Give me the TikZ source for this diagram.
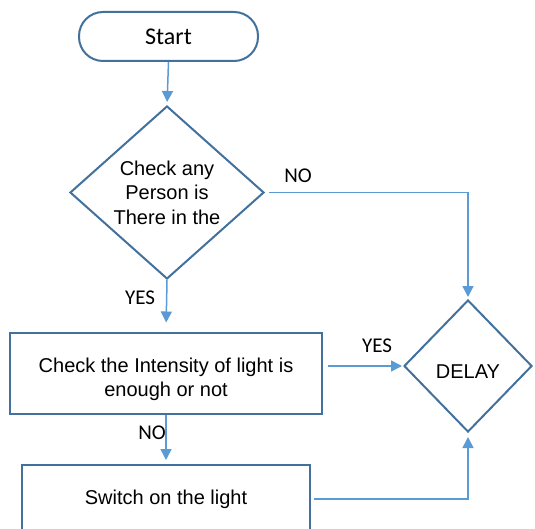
\documentclass[tikz,border=0pt]{standalone}
\usepackage{fontspec}
\setmainfont{Liberation Sans}
\newfontfamily\calib{Carlito}
\usetikzlibrary{shapes.geometric,arrows.meta}
\definecolor{shapeblue}{HTML}{41719C}
\definecolor{lineblue}{HTML}{5B9BD5}
\tikzset{
  shapeline/.style={draw=shapeblue, line width=1pt, fill=white, align=center, font=\fontsize{10}{12.3}\selectfont},
  termbox/.style={shapeline, rounded corners=12pt, minimum width=89.5pt, minimum height=24.5pt, font=\calib\fontsize{12}{14}\selectfont},
  procbox/.style={shapeline, rectangle, inner sep=0pt},
  decbox/.style={shapeline, diamond, inner sep=0pt},
  conn/.style={draw=lineblue, line width=0.75pt, -{Triangle[length=5.5pt,width=5.5pt]}},
  lbl/.style={font=\calib\fontsize{10.5}{12}\selectfont, inner sep=0pt}
}
\begin{document}
\begin{tikzpicture}[x=0.5pt,y=-0.5pt]
\useasboundingbox (0,0) rectangle (535,529);
\clip (0,0) rectangle (535,529);
\node[termbox] (start) at (168.5,36.5) {Start};
\node[decbox, minimum width=97pt, minimum height=86.5pt] (d1) at (167,192.5) {Check any\\Person is\\There in the};
\node[procbox, minimum width=156pt, minimum height=40.5pt] (b1) at (166,373) {\rule{0pt}{13.5pt}Check the Intensity of light is\\enough or not};
\node[procbox, minimum width=144pt, minimum height=34pt] (b2) at (166,499) {Switch on the light};
\node[decbox, minimum width=64pt, minimum height=66pt] (dl) at (468,366) {\rule{0pt}{12.7pt}DELAY};

\draw[conn, shorten >=1.5pt] (start.south) -- (d1.north);
\draw[conn, shorten >=4.5pt] (d1.south) -- (b1.north);
\draw[conn, shorten >=2pt] (b1.south) -- (b2.north);
\draw[conn, shorten <=2pt, shorten >=1pt] (d1.east) -| (dl.north);
\draw[conn, shorten <=2.5pt, shorten >=0.5pt] (b1.east |- dl.west) -- (dl.west);
\draw[conn, shorten <=1.5pt, shorten >=2pt] (b2.east) -| (dl.south);

\node[lbl] (lno1) at (298,176) {NO};
\node[lbl] (lyes1) at (140,298) {YES};
\node[lbl] (lyes2) at (377,346) {YES};
\node[lbl] (lno2) at (152,433) {NO};
\end{tikzpicture}
\end{document}
